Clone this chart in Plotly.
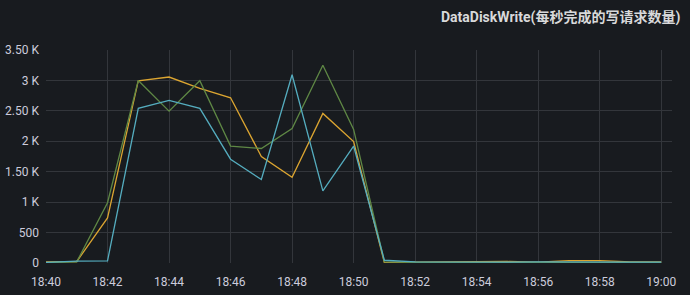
import plotly.graph_objects as go
import pandas as pd

times = pd.date_range("2024-01-01 18:40", "2024-01-01 19:00", freq="1min")

series_names = ["yellow", "green", "cyan"]
yellow_vals = [20, 25, 740, 2995, 3056, 2870, 2715, 1751, 1410, 2458, 1995,
               5, 15, 20, 15, 25, 15, 40, 40, 20, 20]
green_vals = [5, 20, 990, 3000, 2496, 2995, 1920, 1882, 2211, 3248, 2195,
              20, 10, 10, 15, 10, 10, 10, 10, 10, 10]
cyan_vals = [10, 30, 35, 2541, 2672, 2541, 1706, 1372, 3094, 1185, 1922,
             45, 20, 15, 15, 15, 20, 15, 15, 15, 15]

y_tickvals = [0, 500, 1000, 1500, 2000, 2500, 3000, 3500]
y_ticktext = ["0", "500", "1 K", "1.50 K", "2 K", "2.50 K", "3 K", "3.50 K"]

title_text = "DataDiskWrite(每秒完成的写请求数量)"

colors = {"yellow": "#dba531", "green": "#5f8845", "cyan": "#55adbf"}
data = {"yellow": yellow_vals, "green": green_vals, "cyan": cyan_vals}

fig = go.Figure()
for name in series_names:
    fig.add_trace(go.Scatter(x=times, y=data[name], mode="lines", name=name,
                             line=dict(color=colors[name], width=1.3)))

bg = "#181b1f"
grid = "#33363b"
font_fam = "Roboto, 'Noto Sans CJK SC', sans-serif"

fig.update_layout(
    width=690, height=295,
    paper_bgcolor=bg, plot_bgcolor=bg,
    margin=dict(l=46, r=18, t=50, b=32),
    showlegend=False,
    font=dict(family=font_fam, size=12, color="#ccccdc"),
    xaxis=dict(
        range=[pd.Timestamp("2024-01-01 18:40"), pd.Timestamp("2024-01-01 19:00:21")],
        tickformat="%H:%M", dtick=120000, tick0=pd.Timestamp("2024-01-01 18:40"),
        showgrid=True, gridcolor=grid, gridwidth=1, zeroline=False,
        showline=False, ticks="", ticklen=0, ticklabelstandoff=10,
        automargin=False,
        tickfont=dict(size=12, color="#ccccdc"),
    ),
    yaxis=dict(
        range=[0, 3500], tickvals=y_tickvals, ticktext=y_ticktext,
        showgrid=True, gridcolor=grid, gridwidth=1, zeroline=False,
        showline=False, ticks="", ticklabelstandoff=6, automargin=False,
        tickfont=dict(size=12, color="#ccccdc"),
    ),
    annotations=[dict(
        text="<b>" + title_text + "</b>", xref="paper", yref="paper",
        x=1, xshift=10, y=1 + (50 - 17) / 213, xanchor="right", yanchor="middle",
        showarrow=False, font=dict(size=14, color="#d8d9da", family=font_fam),
    )],
)

fig.write_html("out.html")
